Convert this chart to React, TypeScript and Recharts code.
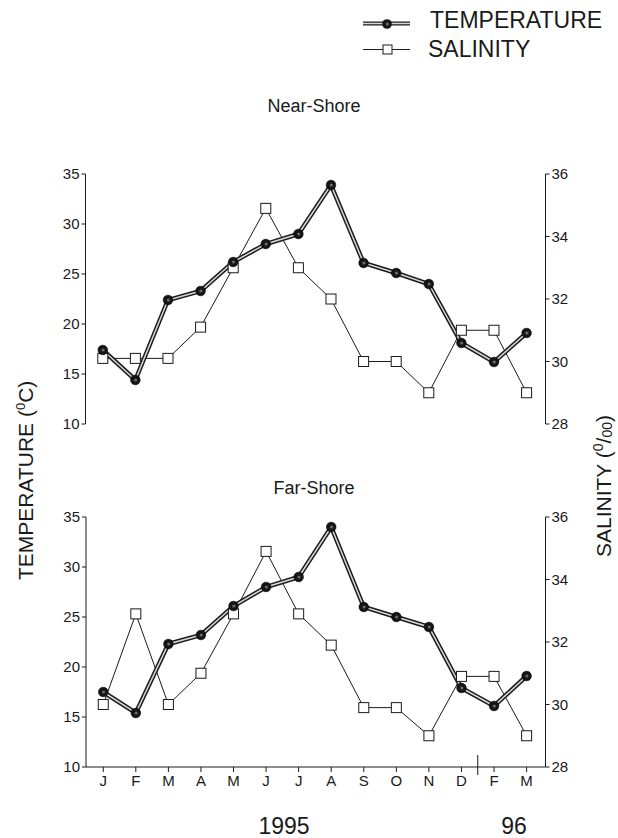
import React from 'react';
import { LineChart, Line, XAxis, YAxis, ReferenceLine } from 'recharts';

const months = ['J', 'F', 'M', 'A', 'M', 'J', 'J', 'A', 'S', 'O', 'N', 'D', 'F', 'M'];
const nearTemp = [17.4, 14.4, 22.4, 23.3, 26.2, 28.0, 29.0, 33.9, 26.1, 25.1, 24.0, 18.1, 16.2, 19.1];
const nearSal = [30.1, 30.1, 30.1, 31.1, 33.0, 34.9, 33.0, 32.0, 30.0, 30.0, 29.0, 31.0, 31.0, 29.0];
const farTemp = [17.5, 15.4, 22.3, 23.2, 26.1, 28.0, 29.0, 34.0, 26.0, 25.0, 24.0, 17.9, 16.1, 19.1];
const farSal = [30.0, 32.9, 30.0, 31.0, 32.9, 34.9, 32.9, 31.9, 29.9, 29.9, 29.0, 30.9, 30.9, 29.0];
const tempTicks = [10, 15, 20, 25, 30, 35];
const salTicks = [28, 30, 32, 34, 36];
const monthIdx = months.map((_, i) => i);

const FONT = '"Liberation Sans", Arial, Helvetica, sans-serif';
const INK = '#1a1a1a';

const build = (t: number[], s: number[]) => months.map((m, i) => ({ i, m, temp: t[i], sal: s[i] }));
const nearData = build(nearTemp, nearSal);
const farData = build(farTemp, farSal);

const CircleDot = (p: any) => {
  if (p.cx == null || p.cy == null) return null;
  return (
    <g key={`c${p.index}`}>
      <circle cx={p.cx} cy={p.cy} r={4.8} fill="#151515" stroke="#000" strokeWidth={0.6} />
      <circle cx={p.cx + 0.3} cy={p.cy} r={1.6} fill="#6a6a6a" />
    </g>
  );
};

const SquareDot = (p: any) => {
  if (p.cx == null || p.cy == null) return null;
  return <rect key={`s${p.index}`} x={p.cx - 5} y={p.cy - 5} width={10} height={10} fill="#fff" stroke={INK} strokeWidth={1} />;
};

type PanelProps = { data: any[]; height: number; margin: any; showX: boolean };

const Panel = ({ data, height, margin, showX }: PanelProps) => (
  <LineChart width={618} height={height} data={data} margin={margin}>
    <XAxis
      dataKey="i"
      type="number"
      domain={[-0.53, 13.58]}
      ticks={monthIdx}
      tickFormatter={(v: number) => months[v]}
      axisLine={{ stroke: INK, strokeWidth: 1 }}
      tickLine={showX ? { stroke: INK, strokeWidth: 1 } : false}
      tick={showX ? { fill: INK, fontSize: 15, fontFamily: FONT } : false}
      tickSize={5}
      tickMargin={3}
      height={showX ? 30 : 0}
      interval={0}
    />
    <YAxis
      yAxisId="t"
      orientation="left"
      domain={[10, 35]}
      ticks={tempTicks}
      width={40}
      axisLine={{ stroke: INK, strokeWidth: 1 }}
      tickLine={{ stroke: INK, strokeWidth: 1 }}
      tickSize={4}
      tickMargin={2}
      tick={{ fill: INK, fontSize: 15, fontFamily: FONT }}
    />
    <YAxis
      yAxisId="s"
      orientation="right"
      domain={[28, 36]}
      ticks={salTicks}
      width={40}
      axisLine={{ stroke: INK, strokeWidth: 1 }}
      tickLine={{ stroke: INK, strokeWidth: 1 }}
      tickSize={4}
      tickMargin={2}
      tick={{ fill: INK, fontSize: 15, fontFamily: FONT }}
    />
    {showX && (
      <ReferenceLine
        yAxisId="t"
        segment={[{ x: 11.5, y: 11.2 }, { x: 11.5, y: 9.2 }]}
        stroke={INK}
        strokeWidth={1}
        ifOverflow="visible"
      />
    )}
    <Line yAxisId="s" dataKey="sal" stroke={INK} strokeWidth={1} dot={<SquareDot />} isAnimationActive={false} type="linear" />
    <Line yAxisId="t" dataKey="temp" stroke="#1c1c1c" strokeWidth={4.5} dot={false} isAnimationActive={false} type="linear" />
    <Line yAxisId="t" dataKey="temp" stroke="#d8d8d8" strokeWidth={1.5} dot={<CircleDot />} isAnimationActive={false} type="linear" />
  </LineChart>
);

export default function App() {
  return (
    <div style={{ position: 'absolute', left: 0, top: 0, width: 618, height: 838, background: '#fff', fontFamily: FONT }}>
      <div style={{ position: 'absolute', left: 0, top: 0 }}>
        <Panel data={nearData} height={440} margin={{ top: 174, right: 32.5, left: 45.5, bottom: 16 }} showX={false} />
      </div>
      <div style={{ position: 'absolute', left: 0, top: 440 }}>
        <Panel data={farData} height={398} margin={{ top: 77, right: 32.5, left: 46, bottom: 41 }} showX={true} />
      </div>
      <svg width={618} height={838} style={{ position: 'absolute', left: 0, top: 0, pointerEvents: 'none' }}>
        {/* Legend */}
        <line x1={363} y1={23.5} x2={410} y2={23.5} stroke="#1c1c1c" strokeWidth={4} />
        <line x1={363} y1={23.5} x2={410} y2={23.5} stroke="#d8d8d8" strokeWidth={1.3} />
        <circle cx={387} cy={24} r={4.8} fill="#151515" />
        <circle cx={387.3} cy={24} r={1.6} fill="#6a6a6a" />
        <text x={430} y={28} fontSize={23} fontFamily={FONT} fill={INK}>TEMPERATURE</text>
        <line x1={363} y1={49.5} x2={410} y2={49.5} stroke={INK} strokeWidth={1} />
        <rect x={383} y={45} width={9} height={9} fill="#fff" stroke={INK} strokeWidth={1} />
        <text x={428} y={57} fontSize={23} fontFamily={FONT} fill={INK}>SALINITY</text>

        {/* Panel titles */}
        <text x={314} y={112} fontSize={18} fontFamily={FONT} fill={INK} textAnchor="middle">Near-Shore</text>
        <text x={314} y={494} fontSize={18} fontFamily={FONT} fill={INK} textAnchor="middle">Far-Shore</text>

        {/* Axis titles */}
        <text x={33} y={580} fontSize={21} fontFamily={FONT} fill={INK} transform="rotate(-90, 33, 580)">
          TEMPERATURE (<tspan fontSize={13} dy={-8}>0</tspan><tspan dy={8}>C)</tspan>
        </text>
        <text x={611} y={557} fontSize={21} fontFamily={FONT} fill={INK} transform="rotate(-90, 611, 557)">
          SALINITY (<tspan fontSize={14} dy={-8}>0</tspan><tspan dy={8}>/</tspan><tspan fontSize={14} dy={1}>00</tspan><tspan dy={-1}>)</tspan>
        </text>

        {/* Year labels */}
        <text x={284} y={834} fontSize={23} fontFamily={FONT} fill={INK} textAnchor="middle">1995</text>
        <text x={514} y={834} fontSize={23} fontFamily={FONT} fill={INK} textAnchor="middle">96</text>
      </svg>
    </div>
  );
}
